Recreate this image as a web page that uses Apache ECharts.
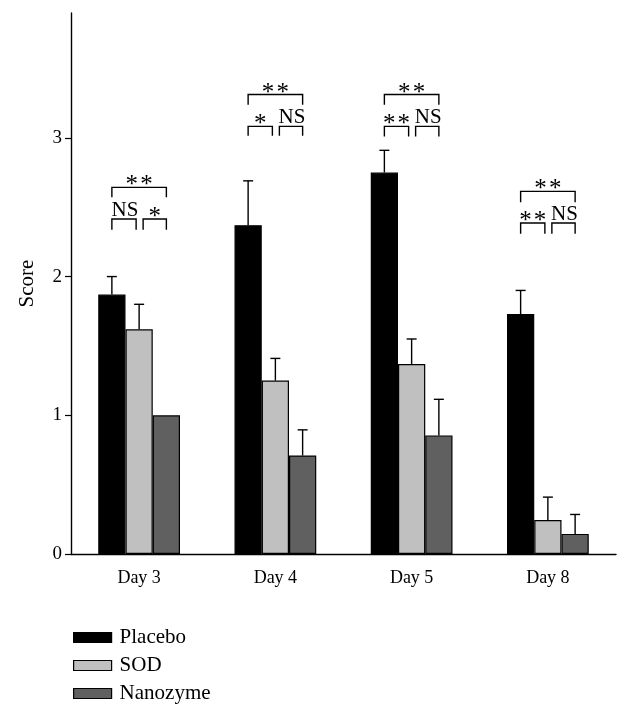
<!DOCTYPE html>
<html><head><meta charset="utf-8">
<script src="https://cdn.jsdelivr.net/npm/echarts@6/dist/echarts.min.js"></script>
<style>html,body{margin:0;padding:0;background:#fff}#c{width:630px;height:715px}</style>
</head><body><div id="c"></div>
<script>
// ---- data ----
var days = ['Day 3', 'Day 4', 'Day 5', 'Day 8'];
var seriesNames = ['Placebo', 'SOD', 'Nanozyme'];
var placebo = [1.87, 2.37, 2.75, 1.73];
var placeboUpper = [2.00, 2.69, 2.91, 1.90];
var sod = [1.62, 1.25, 1.37, 0.245];
var sodUpper = [1.80, 1.41, 1.55, 0.41];
var nano = [1.00, 0.71, 0.855, 0.145];
var nanoUpper = [1.00, 0.895, 1.115, 0.285];
var yTicks = [0, 1, 2, 3];
// brackets: [dayIndex, fromBar, toBar, lineValue, legBottomValue, label]
var brackets = [
  [0, 0, 2, 2.643, 2.571, '**'], [0, 0, 1, 2.415, 2.338, 'NS'], [0, 1, 2, 2.415, 2.338, '*'],
  [1, 0, 2, 3.312, 3.239, '**'], [1, 0, 1, 3.083, 3.016, '*'],  [1, 1, 2, 3.083, 3.016, 'NS'],
  [2, 0, 2, 3.312, 3.239, '**'], [2, 0, 1, 3.083, 3.009, '**'], [2, 1, 2, 3.083, 3.009, 'NS'],
  [3, 0, 2, 2.614, 2.535, '**'], [3, 0, 1, 2.386, 2.309, '**'], [3, 1, 2, 2.386, 2.309, 'NS']
];

var colors = ['#000000', '#c0c0c0', '#606060'];
var FONT = '"Liberation Serif", "Times New Roman", serif';
var BARFRAC = 0.2;

function errData(mean, upper) {
  return mean.map(function (m, i) { return [i, m, upper[i]]; });
}
function errSeries(idx, mean, upper) {
  return {
    type: 'custom', silent: true, z: 3,
    data: errData(mean, upper),
    encode: { x: 0, y: [1, 2] },
    renderItem: function (params, api) {
      var cat = api.value(0), lo = api.value(1), hi = api.value(2);
      if (hi <= lo) return null;
      var band = api.size([1, 0])[0];
      var c = api.coord([cat, lo]);
      var t = api.coord([cat, hi]);
      var x = c[0] + (idx - 1) * band * BARFRAC;
      var style = { stroke: '#000', lineWidth: 1.4, fill: null };
      return { type: 'group', children: [
        { type: 'line', shape: { x1: x, y1: c[1], x2: x, y2: t[1] }, style: style },
        { type: 'line', shape: { x1: x - 5, y1: t[1], x2: x + 5, y2: t[1] }, style: style }
      ]};
    }
  };
}

var bracketSeries = {
  type: 'custom', silent: true, z: 4,
  data: brackets,
  encode: { x: 0, y: [3, 4] },
  renderItem: function (params, api) {
    var b = brackets[params.dataIndex];
    var band = api.size([1, 0])[0];
    var p = api.coord([b[0], b[3]]);
    var q = api.coord([b[0], b[4]]);
    var x1 = p[0] + (b[1] - 1) * band * BARFRAC;
    var x2 = p[0] + (b[2] - 1) * band * BARFRAC;
    if (b[2] === 1) x2 -= 3;
    if (b[1] === 1) x1 += 4;
    var y = p[1], yl = q[1];
    var style = { stroke: '#000', lineWidth: 1.4, fill: null };
    var isNS = b[5] === 'NS';
    var txt = isNS ? 'NS' : b[5].split('').join('\u200A');
    return { type: 'group', children: [
      { type: 'polyline', shape: { points: [[x1, yl], [x1, y], [x2, y], [x2, yl]] }, style: style },
      { type: 'text', style: {
          x: (x1 + x2) / 2 + (isNS ? 1 : 0),
          y: isNS ? y + 2 : y + 11,
          text: txt, fill: '#000',
          font: (isNS ? '21px ' : '25px ') + FONT,
          align: 'center', verticalAlign: 'bottom'
      } }
    ]};
  }
};

var barStyle = function (i) {
  return { color: colors[i], borderColor: '#000', borderWidth: 1.2 };
};

var chart = echarts.init(document.getElementById('c'), null, { renderer: 'canvas' });
chart.setOption({
  animation: false,
  backgroundColor: '#fff',
  textStyle: { fontFamily: FONT },
  grid: { left: 71, right: 14, top: 13, bottom: 161, containLabel: false },
  legend: {
    orient: 'vertical', left: 68, top: 622,
    itemWidth: 38, itemHeight: 10, itemGap: 7,
    icon: 'rect',
    data: seriesNames,
    itemStyle: { borderColor: '#000', borderWidth: 1.2 },
    textStyle: { fontFamily: FONT, fontSize: 21, color: '#000', padding: [0, 0, 0, 3] }
  },
  xAxis: {
    type: 'category', data: days,
    axisLine: { lineStyle: { color: '#000', width: 1.4 } },
    axisTick: { alignWithLabel: true, length: 5, lineStyle: { color: '#000', width: 1.2 } },
    axisLabel: { color: '#000', fontSize: 18, fontFamily: FONT, margin: 15 }
  },
  yAxis: {
    type: 'value', min: 0, max: 3.9, interval: 1,
    name: 'Score', nameLocation: 'middle', nameGap: 33, nameRotate: 90,
    nameTextStyle: { color: '#000', fontSize: 21, fontFamily: FONT },
    axisLine: { show: true, lineStyle: { color: '#000', width: 1.4 } },
    axisTick: { show: true, length: 6, customValues: yTicks, lineStyle: { color: '#000', width: 1.2 } },
    axisLabel: { color: '#000', fontSize: 19, fontFamily: FONT, margin: 9, customValues: yTicks },
    splitLine: { show: false }
  },
  series: [
    { name: seriesNames[0], type: 'bar', data: placebo, barWidth: '20%', barGap: '0%', itemStyle: barStyle(0) },
    { name: seriesNames[1], type: 'bar', data: sod, barWidth: '20%', barGap: '0%', itemStyle: barStyle(1) },
    { name: seriesNames[2], type: 'bar', data: nano, barWidth: '20%', barGap: '0%', itemStyle: barStyle(2) },
    errSeries(0, placebo, placeboUpper),
    errSeries(1, sod, sodUpper),
    errSeries(2, nano, nanoUpper),
    bracketSeries
  ]
});
</script></body></html>
